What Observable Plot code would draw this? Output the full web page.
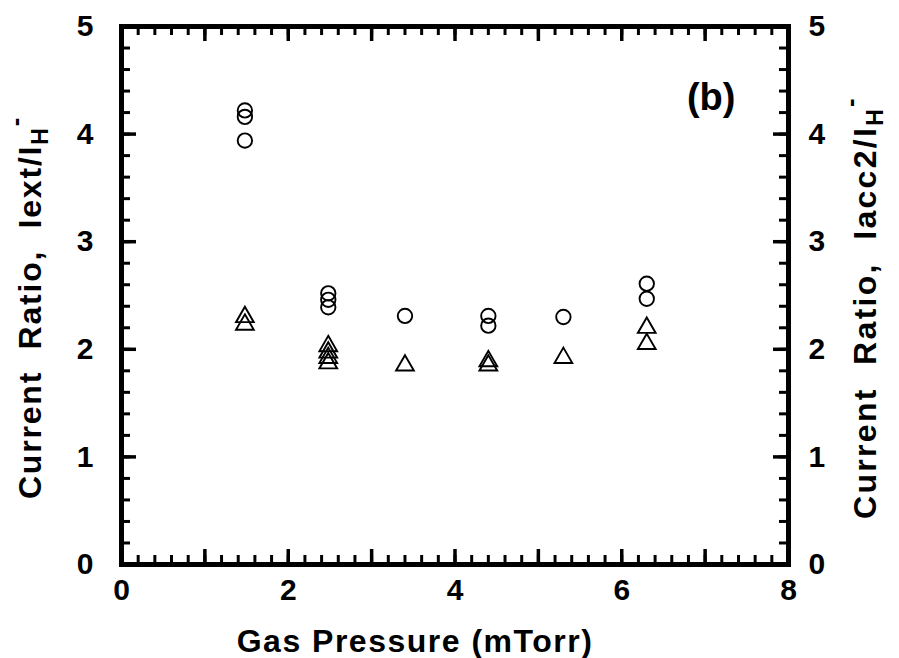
<!DOCTYPE html>
<html>
<head>
<meta charset="utf-8">
<script src="https://cdn.jsdelivr.net/npm/d3@7"></script>
<script src="https://cdn.jsdelivr.net/npm/@observablehq/plot@0.6"></script>
<style>
  html, body { margin: 0; padding: 0; background: #fff; }
  #chart { width: 899px; height: 658px; }
</style>
</head>
<body>
<div id="chart"></div>
<script>
// Iext/IH- (open circles)
const circleX = [1.48, 1.48, 1.48, 2.48, 2.48, 2.48, 3.4, 4.4, 4.4, 5.3, 6.3, 6.3];
const circleY = [4.22, 4.16, 3.94, 2.52, 2.46, 2.39, 2.31, 2.31, 2.22, 2.30, 2.61, 2.47];
// Iacc2/IH- (open triangles)
const triX = [1.48, 1.48, 2.48, 2.48, 2.48, 2.48, 3.4, 4.4, 4.4, 5.3, 6.3, 6.3];
const triY = [2.30, 2.23, 2.03, 1.97, 1.92, 1.87, 1.85, 1.89, 1.85, 1.92, 2.20, 2.05];

const xMajor = [0, 1, 2, 3, 4, 5, 6, 7, 8];
const xLabels = [0, 2, 4, 6, 8];
const yMajor = [0, 1, 2, 3, 4, 5];
const xMinor = d3.range(0, 41).map(i => i / 5);
const yMinor = d3.range(0, 26).map(i => i / 5);

const xTitle = "Gas Pressure (mTorr)";
const yTitleLeft = "Current  Ratio,  Iext/I";
const yTitleRight = "Current  Ratio,  Iacc2/I";
const panelLabel = "(b)";

const circles = circleX.map((x, i) => ({x, y: circleY[i]}));
const triangles = triX.map((x, i) => ({x, y: triY[i]}));

const W = 899, H = 658, mL = 121, mR = 111, mT = 26, mB = 94;
const xDom = [0, 8], yDom = [0, 5];
const fw = W - mL - mR, fh = H - mT - mB;
// tick lengths in pixels, converted to data units through the frame size
const minorPx = 9, majorPx = 15;
const xu = px => px / fw * (xDom[1] - xDom[0]);
const yu = px => px / fh * (yDom[1] - yDom[0]);

const tickFont = {fontSize: 30, fontWeight: "bold", fontFamily: "Liberation Sans, Arial, sans-serif", tickFormat: "d"};
const titleFont = {fontSize: 32, fontWeight: "bold", fontFamily: "Liberation Sans, Arial, sans-serif"};

function xTicks(values, px, sw) {
  return [
    Plot.ruleX(values, {x: d => d, y1: yDom[0], y2: yDom[0] + yu(px), stroke: "#000", strokeWidth: sw}),
    Plot.ruleX(values, {x: d => d, y1: yDom[1] - yu(px), y2: yDom[1], stroke: "#000", strokeWidth: sw})
  ];
}
function yTicks(values, px, sw) {
  return [
    Plot.ruleY(values, {y: d => d, x1: xDom[0], x2: xDom[0] + xu(px), stroke: "#000", strokeWidth: sw}),
    Plot.ruleY(values, {y: d => d, x1: xDom[1] - xu(px), x2: xDom[1], stroke: "#000", strokeWidth: sw})
  ];
}

const chart = Plot.plot({
  width: W,
  height: H,
  marginLeft: mL,
  marginRight: mR,
  marginTop: mT,
  marginBottom: mB,
  style: {fontFamily: "Liberation Sans, Arial, sans-serif", fontWeight: "bold", color: "#000", background: "#fff"},
  x: {domain: xDom},
  y: {domain: yDom},
  marks: [
    ...xTicks(xMinor, minorPx, 3),
    ...yTicks(yMinor, minorPx, 3),
    ...xTicks(xMajor, majorPx, 3.5),
    ...yTicks(yMajor, majorPx, 3.5),
    // tick labels
    Plot.axisX(xLabels, {anchor: "bottom", tickSize: 0, tickPadding: 14, label: null, ...tickFont}),
    Plot.axisY(yMajor, {anchor: "left", tickSize: 0, tickPadding: 28, label: null, ...tickFont}),
    Plot.axisY(yMajor, {anchor: "right", tickSize: 0, tickPadding: 20, label: null, ...tickFont}),
    Plot.frame({stroke: "#000", strokeWidth: 5}),
    // data
    Plot.dot(circles, {x: "x", y: "y", symbol: "circle", r: 7.2, stroke: "#000", strokeWidth: 1.9, fill: "none"}),
    Plot.dot(triangles, {x: "x", y: "y", symbol: "triangle", r: 6.6, stroke: "#000", strokeWidth: 1.9, fill: "none"}),
    // titles
    Plot.text([xTitle], {frameAnchor: "bottom", text: d => d, dx: -40, dy: 77, textAnchor: "middle", lineAnchor: "middle",
      ...titleFont, className: "xtitle"}),
    Plot.text([yTitleLeft], {frameAnchor: "left", text: d => d, dx: -91, dy: 12, rotate: -90, textAnchor: "middle", lineAnchor: "middle",
      ...titleFont, className: "ytitle-left"}),
    Plot.text([yTitleRight], {frameAnchor: "right", text: d => d, dx: 77, dy: 12, rotate: -90, textAnchor: "middle", lineAnchor: "middle",
      ...titleFont, className: "ytitle-right"}),
    Plot.text([panelLabel], {frameAnchor: "top-right", text: d => d, dx: -53, dy: 71, textAnchor: "end", lineAnchor: "middle",
      fontSize: 38, fontWeight: "bold", fontFamily: "Liberation Sans, Arial, sans-serif"})
  ]
});

// letter spacing on titles to match the reference's wide setting
d3.select(chart).selectAll(".xtitle text").style("letter-spacing", "1.5px");
d3.select(chart).selectAll(".ytitle-left text").style("letter-spacing", "1.8px");
d3.select(chart).selectAll(".ytitle-right text").style("letter-spacing", "2.3px");

// subscript H and superscript minus on the ratio titles
function addSubSup(sel) {
  sel.each(function () {
    const t = d3.select(this);
    const main = t.text();
    t.text(null);
    t.append("tspan").text(main);
    t.append("tspan").attr("dy", "0.32em").attr("font-size", "0.72em").text("H");
    t.append("tspan").attr("dy", "-0.95em").attr("font-size", "0.8em").text("-");
  });
}
addSubSup(d3.select(chart).selectAll(".ytitle-left text"));
addSubSup(d3.select(chart).selectAll(".ytitle-right text"));

document.getElementById("chart").appendChild(chart);
</script>
</body>
</html>
